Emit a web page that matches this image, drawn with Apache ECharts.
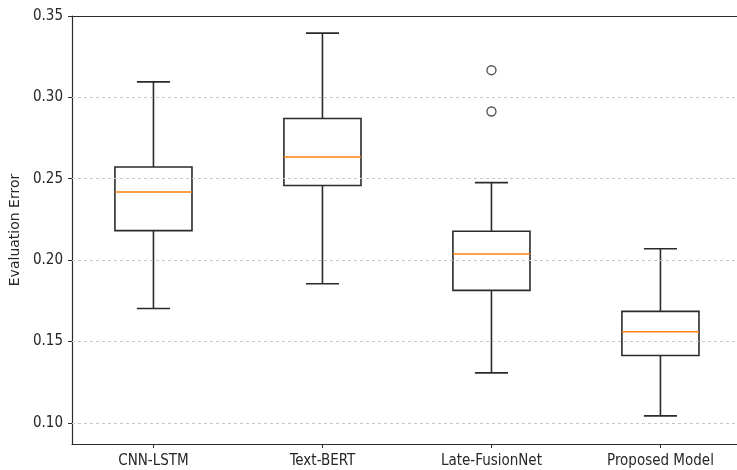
<!DOCTYPE html>
<html>
<head>
<meta charset="utf-8">
<script src="https://cdn.jsdelivr.net/npm/echarts@6/dist/echarts.min.js"></script>
<style>html,body{margin:0;padding:0;background:#fff;}#c{width:737px;height:470px;}</style>
</head>
<body>
<div id="c"></div>
<script>
const categories = ['CNN-LSTM', 'Text-BERT', 'Late-FusionNet', 'Proposed Model'];
const whiskerLow  = [0.1703, 0.1855, 0.1307, 0.1043];
const q1          = [0.2181, 0.2458, 0.1814, 0.1414];
const median      = [0.2418, 0.2633, 0.2037, 0.1560];
const q3          = [0.2572, 0.2870, 0.2177, 0.1685];
const whiskerHigh = [0.3095, 0.3395, 0.2476, 0.2070];
const outliers    = [[3, 0.3167], [3, 0.2913]];
const yTicks      = [0.10, 0.15, 0.20, 0.25, 0.30, 0.35];
const gridTicks   = [0.10, 0.15, 0.20, 0.25, 0.30];

const boxData = categories.map((c, i) => [i + 1, whiskerLow[i], q1[i], median[i], q3[i], whiskerHigh[i]]);
const xPositions = categories.map((c, i) => i + 1);

const chart = echarts.init(document.getElementById('c'), null, {renderer: 'canvas'});
const lineColor = '#2b2b2b';
const txtColor = '#262626';
const condFont = "'DejaVu Sans Condensed', 'DejaVu Sans', sans-serif";
const BOX_HALF = 0.228;
const CAP_HALF = 0.098;

chart.setOption({
  animation: false,
  backgroundColor: '#fff',
  grid: {left: 72, right: 0, top: 16, bottom: 26},
  xAxis: [{
    type: 'value', min: 0.518, max: 4.453,
    axisLine: {show: true, onZero: false, lineStyle: {color: lineColor, width: 1.2}},
    axisTick: {show: true, customValues: xPositions, length: 4, lineStyle: {color: lineColor}},
    axisLabel: {customValues: xPositions, formatter: v => categories[Math.round(v) - 1] || '',
      fontFamily: condFont, fontSize: 15, color: txtColor, margin: 10},
    splitLine: {show: false}
  }, {
    type: 'value', min: 0.518, max: 4.453, position: 'top',
    axisLine: {show: true, onZero: false, lineStyle: {color: lineColor, width: 1.2}},
    axisTick: {show: false}, axisLabel: {show: false}, splitLine: {show: false}
  }],
  yAxis: {
    type: 'value', min: 0.087, max: 0.35,
    name: 'Evaluation Error', nameLocation: 'middle', nameGap: 47,
    nameTextStyle: {fontFamily: 'DejaVu Sans', fontSize: 14, color: txtColor},
    axisLine: {show: true, onZero: false, lineStyle: {color: lineColor, width: 1.2}},
    axisTick: {show: true, customValues: yTicks, length: 4, lineStyle: {color: lineColor}},
    axisLabel: {customValues: yTicks, formatter: v => v.toFixed(2),
      fontFamily: condFont, fontSize: 15, color: txtColor, margin: 9},
    splitLine: {show: false}
  },
  series: [{
    type: 'scatter',
    data: outliers,
    symbol: 'circle', symbolSize: 9,
    itemStyle: {color: '#fff', borderColor: lineColor, borderWidth: 1.4},
    z: 2,
    markLine: {
      silent: true, symbol: 'none', label: {show: false},
      lineStyle: {color: '#c8c8c8', type: [3, 3], width: 1},
      data: gridTicks.map(v => ({yAxis: v}))
    }
  }, {
    type: 'custom',
    z: 3,
    data: boxData,
    encode: {x: 0, y: [1, 2, 3, 4, 5]},
    renderItem: function (params, api) {
      const x = api.value(0);
      const lo = api.coord([x, api.value(1)]);
      const b1 = api.coord([x, api.value(2)]);
      const md = api.coord([x, api.value(3)]);
      const b3 = api.coord([x, api.value(4)]);
      const hi = api.coord([x, api.value(5)]);
      const bw = api.size([BOX_HALF, 0])[0];
      const cw = api.size([CAP_HALF, 0])[0];
      const cx = lo[0];
      const st = {stroke: lineColor, lineWidth: 1.6, fill: null};
      return {
        type: 'group',
        children: [
          {type: 'line', shape: {x1: cx, y1: b1[1], x2: cx, y2: lo[1]}, style: st},
          {type: 'line', shape: {x1: cx, y1: b3[1], x2: cx, y2: hi[1]}, style: st},
          {type: 'line', shape: {x1: cx - cw, y1: lo[1], x2: cx + cw, y2: lo[1]}, style: st},
          {type: 'line', shape: {x1: cx - cw, y1: hi[1], x2: cx + cw, y2: hi[1]}, style: st},
          {type: 'rect', shape: {x: cx - bw, y: b3[1], width: 2 * bw, height: b1[1] - b3[1]},
            style: {stroke: lineColor, lineWidth: 1.6, fill: '#fff'}},
          {type: 'line', shape: {x1: cx - bw, y1: md[1], x2: cx + bw, y2: md[1]},
            style: {stroke: '#ff7f0e', lineWidth: 1.5}}
        ]
      };
    }
  }]
});
</script>
</body>
</html>
